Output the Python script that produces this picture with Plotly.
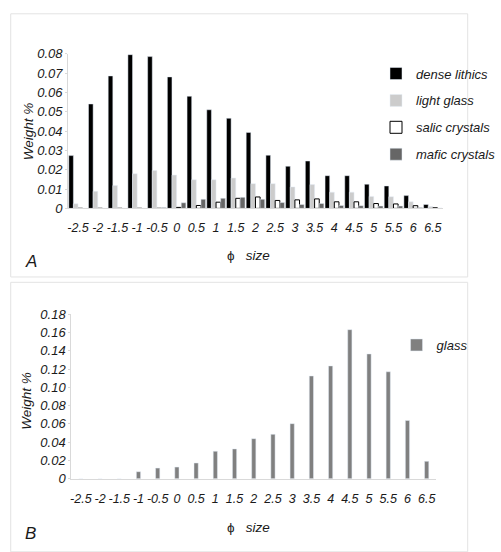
import plotly.graph_objects as go

W, H = 501, 552

phi = ["-2.5", "-2", "-1.5", "-1", "-0.5", "0", "0.5", "1", "1.5", "2", "2.5",
       "3", "3.5", "4", "4.5", "5", "5.5", "6", "6.5"]

dense_lithics = [0.0273, 0.054, 0.0685, 0.0795, 0.0785, 0.068, 0.058, 0.051, 0.0466,
                 0.0393, 0.0275, 0.0218, 0.0245, 0.0169, 0.0169, 0.0125, 0.0116, 0.0066, 0.002]
light_glass = [0.0024, 0.0088, 0.0118, 0.0179, 0.0196, 0.0172, 0.0148, 0.0148, 0.0157,
               0.0128, 0.0128, 0.0111, 0.0123, 0.0084, 0.0084, 0.0062, 0.006, 0.0034, 0.001]
salic_crystals = [0, 0, 0, 0, 0, 0.0005, 0.0015, 0.0032, 0.0052,
                  0.0059, 0.0041, 0.0044, 0.0049, 0.0034, 0.0034, 0.0025, 0.0023, 0.0014, 0.0003]
mafic_crystals = [0, 0, 0, 0, 0.0005, 0.0029, 0.0047, 0.0052, 0.0057,
                  0.0047, 0.003, 0.002, 0.0025, 0.0015, 0.0014, 0.0012, 0.0012, 0.0005, 0.0002]

glass = [0, 0, 0, 0.0078, 0.0117, 0.0128, 0.0173, 0.0301, 0.0327, 0.0439, 0.0486,
         0.0603, 0.1124, 0.1234, 0.163, 0.1365, 0.117, 0.0638, 0.0191]

yticks_a = [0, 0.01, 0.02, 0.03, 0.04, 0.05, 0.06, 0.07, 0.08]
yticktext_a = ["0", "0.01", "0.02", "0.03", "0.04", "0.05", "0.06", "0.07", "0.08"]
yticks_b = [0, 0.02, 0.04, 0.06, 0.08, 0.10, 0.12, 0.14, 0.16, 0.18]
yticktext_b = ["0", "0.02", "0.04", "0.06", "0.08", "0.10", "0.12", "0.14", "0.16", "0.18"]

FONT = "Liberation Sans, Arial, sans-serif"
TXT = "#1a1a1a"


def px_x(x):
    return x / W


def px_y(y):
    return 1 - y / H


def ital(labels):
    return ["<i>%s</i>" % t for t in labels]


fig = go.Figure()

fig.add_trace(go.Bar(x=phi, y=dense_lithics, name="dense lithics", marker_color="#000000",
                     legend="legend", legendgroup="a1", xaxis="x", yaxis="y"))
fig.add_trace(go.Bar(x=phi, y=light_glass, name="light glass", marker_color="#cccccc",
                     legend="legend", legendgroup="a2", xaxis="x", yaxis="y"))
fig.add_trace(go.Bar(x=phi, y=salic_crystals, name="salic crystals", marker_color="#ffffff",
                     marker_line=dict(color="#000000", width=1),
                     legend="legend", legendgroup="a3", xaxis="x", yaxis="y"))
fig.add_trace(go.Bar(x=phi, y=mafic_crystals, name="mafic crystals", marker_color="#666666",
                     legend="legend", legendgroup="a4", xaxis="x", yaxis="y"))

fig.add_trace(go.Bar(x=phi, y=glass, name="glass", marker_color="#808080", width=0.22,
                     legend="legend2", xaxis="x2", yaxis="y2"))

axis_common = dict(
    showgrid=False, zeroline=False, showline=True, linecolor="#d9d9d9", linewidth=1,
    tickfont=dict(family=FONT, size=13, color=TXT, style="italic"),
)
xfont = dict(family=FONT, size=12.5, color=TXT, style="italic")

fig.update_layout(
    width=W, height=H,
    margin=dict(l=0, r=0, t=0, b=0),
    paper_bgcolor="white", plot_bgcolor="white",
    font=dict(family=FONT, color=TXT),
    barmode="group", bargap=0.06, bargroupgap=0,
    showlegend=True,
    xaxis=dict(axis_common, type="category", domain=[px_x(72.7), px_x(478)],
               anchor="y", ticks="", ticklabelstandoff=8,
               tickvals=phi, ticktext=ital(phi), tickfont=xfont),
    yaxis=dict(axis_common, domain=[px_y(207), px_y(48)], range=[0, 0.08],
               anchor="x", tickvals=yticks_a, ticktext=ital(yticktext_a),
               ticks="outside", ticklen=2, tickcolor="#d9d9d9", ticklabelstandoff=0),
    xaxis2=dict(axis_common, type="category", domain=[px_x(76), px_x(471)],
                anchor="y2", ticks="", ticklabelstandoff=8,
                tickvals=phi, ticktext=ital(phi), tickfont=xfont),
    yaxis2=dict(axis_common, domain=[px_y(485), px_y(315.7)], range=[0, 0.18],
                anchor="x2", tickvals=yticks_b, ticktext=ital(yticktext_b),
                ticks="outside", ticklen=2, tickcolor="#d9d9d9", ticklabelstandoff=0),
    legend=dict(x=px_x(406), y=px_y(53), xanchor="left", yanchor="top",
                bgcolor="rgba(0,0,0,0)", traceorder="grouped", tracegroupgap=7,
                itemwidth=30,
                font=dict(family=FONT, size=13, color=TXT, style="italic")),
    legend2=dict(x=px_x(428), y=px_y(332), xanchor="left", yanchor="top",
                 bgcolor="rgba(0,0,0,0)",
                 font=dict(family=FONT, size=13, color=TXT, style="italic")),
)

# panel frames
fig.add_shape(type="rect", xref="paper", yref="paper",
              x0=px_x(10.5), x1=px_x(505), y0=px_y(277.5), y1=px_y(7),
              line=dict(color="#e3e3e3", width=1), fillcolor="rgba(0,0,0,0)", layer="below")
fig.add_shape(type="rect", xref="paper", yref="paper",
              x0=px_x(10.5), x1=px_x(505), y0=px_y(560), y1=px_y(283),
              line=dict(color="#e3e3e3", width=1), fillcolor="rgba(0,0,0,0)", layer="below")

annos = [
    # axis titles
    dict(x=px_x(30), y=px_y(128), text="<i>Weight %</i>", textangle=-90, size=13.5),
    dict(x=px_x(28), y=px_y(405), text="<i>Weight %</i>", textangle=-90, size=13.5),
    dict(x=px_x(268), y=px_y(255), text="ϕ   <i>size</i>", textangle=0, size=13.5),
    dict(x=px_x(268), y=px_y(535), text="ϕ   <i>size</i>", textangle=0, size=13.5),
    # panel letters
    dict(x=px_x(32), y=px_y(262), text="<i>A</i>", textangle=0, size=17),
    dict(x=px_x(32), y=px_y(541), text="<i>B</i>", textangle=0, size=17),
]
for a in annos:
    fig.add_annotation(x=a["x"], y=a["y"], xref="paper", yref="paper", text=a["text"],
                       textangle=a["textangle"], showarrow=False,
                       xanchor="center", yanchor="middle",
                       font=dict(family=FONT, size=a["size"], color=TXT))

fig.write_html("out.html")
